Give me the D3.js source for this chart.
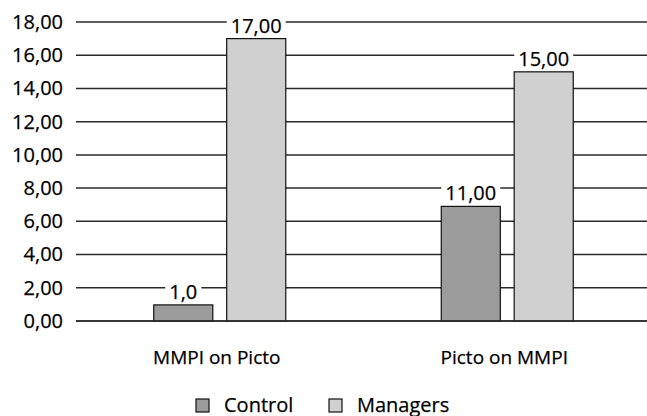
<!DOCTYPE html>
<html><head><meta charset="utf-8">
<script src="https://cdn.jsdelivr.net/npm/d3@7"></script>
<style>
html,body{margin:0;padding:0;background:#fff;}
text{font-family:"Open Sans","Noto Sans",sans-serif;fill:#000;stroke:#000;stroke-width:0.25px;}
</style></head>
<body>
<script>
const categories = ["MMPI on Picto", "Picto on MMPI"];
const seriesNames = ["Control", "Managers"];
const controlValues = [0.97, 6.9];
const managersValues = [17.0, 15.0];
const controlLabels = ["1,0", "11,00"];
const managersLabels = ["17,00", "15,00"];
const yTicks = [0, 2, 4, 6, 8, 10, 12, 14, 16, 18];
const colors = ["#9b9b9b", "#d0d0d0"];

const W = 647, H = 416;
const svg = d3.select("body").append("svg").attr("width", W).attr("height", H);

const y = d3.scaleLinear().domain([0, 18]).range([321, 22]);
const x0 = d3.scaleBand().domain(categories).range([76, 651]).paddingInner(0).paddingOuter(0);
const x1 = d3.scaleBand().domain(seriesNames).range([0, 132]).paddingInner(0.19);
const groupOffset = (x0.bandwidth() - 132) / 2;

// tick labels
const yAxis = d3.axisLeft(y).tickValues(yTicks).tickSize(0).tickPadding(13)
  .tickFormat(d => d3.format(".2f")(d).replace(".", ","));
const gAxis = svg.append("g").attr("transform", "translate(76,0)").call(yAxis);
gAxis.select(".domain").remove();
gAxis.selectAll("text").style("font-size", "20px").attr("fill", "#000");

// grid
svg.append("g").selectAll("line").data(yTicks).join("line")
  .attr("x1", 76).attr("x2", W).attr("y1", d => y(d)).attr("y2", d => y(d))
  .attr("stroke", "#2a2a2a").attr("stroke-width", 1.5);

// bars
const data = categories.map((c, i) => ({
  cat: c,
  vals: [
    {s: "Control", v: controlValues[i], l: controlLabels[i], c: colors[0]},
    {s: "Managers", v: managersValues[i], l: managersLabels[i], c: colors[1]}
  ]
}));

const groups = svg.append("g").selectAll("g").data(data).join("g")
  .attr("transform", d => `translate(${x0(d.cat) + groupOffset},0)`);

groups.selectAll("rect").data(d => d.vals).join("rect")
  .attr("x", d => x1(d.s)).attr("width", x1.bandwidth())
  .attr("y", d => y(d.v)).attr("height", d => y(0) - y(d.v))
  .attr("fill", d => d.c).attr("stroke", "#111").attr("stroke-width", 1.2);

// value labels with white knock-out behind
groups.each(function(d) {
  const g = d3.select(this);
  d.vals.forEach(v => {
    const t = g.append("text")
      .attr("x", x1(v.s) + x1.bandwidth() / 2)
      .attr("y", y(v.v) - 6)
      .attr("text-anchor", "middle")
      .style("font-size", "20px")
      .text(v.l);
    const bb = t.node().getBBox();
    g.insert("rect", "text")
      .attr("x", bb.x - 4).attr("y", bb.y + 4).attr("width", bb.width + 8).attr("height", bb.height - 6)
      .attr("fill", "#fff");
  });
});
groups.selectAll("text").raise();

svg.append("line").attr("x1", 76).attr("x2", W).attr("y1", y(0)).attr("y2", y(0))
  .attr("stroke", "#2a2a2a").attr("stroke-width", 1.5);

// category labels
svg.append("g").selectAll("text").data(categories).join("text")
  .attr("x", d => x0(d) + x0.bandwidth() / 2 - 3)
  .attr("y", 364)
  .attr("text-anchor", "middle")
  .style("font-size", "19px")
  .text(d => d);

// legend
const legendX = [196, 329];
const leg = svg.append("g").selectAll("g").data(seriesNames).join("g")
  .attr("transform", (d, i) => `translate(${legendX[i]},399)`);
leg.append("rect").attr("width", 13).attr("height", 13)
  .attr("fill", (d, i) => colors[i]).attr("stroke", "#111").attr("stroke-width", 1.2);
leg.append("text").attr("x", 28).attr("y", 12.5).style("font-size", "20px").text(d => d);
</script>
</body></html>
